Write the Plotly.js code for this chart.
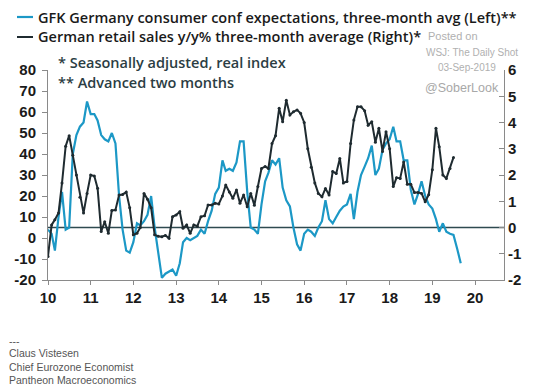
<!DOCTYPE html>
<html><head><meta charset="utf-8">
<script src="https://cdn.plot.ly/plotly-3.0.1.min.js"></script>
<style>html,body{margin:0;padding:0;background:#fff;}#chart{width:541px;height:387px;}</style>
</head><body><div id="chart"></div>
<script>
// GFK consumer confidence expectations, 3m avg (left axis), monthly from Jan 2010
var gfkStart = '2010-01-01';
var gfk2010 = [4, 2, -6, 10, 22, 4, 5, 40, 49, 53, 55, 65];
var gfk2011 = [59, 59, 56, 49, 47, 46, 50, 45, 20, 4, -6, -7];
var gfk2012 = [-2, 7, 6, 8, 11, 20, 5, -7, -19, -17, -16, -15];
var gfk2013 = [-18, -12, -2, 0, -1, 0, 1, 4, 2, 8, 13, 21];
var gfk2014 = [24, 37, 32, 33, 32, 36, 46, 46, 22, 5, 4, 2];
var gfk2015 = [16, 27, 31, 37, 35, 38, 24, 18, 15, 5, -3, -6];
var gfk2016 = [2, 4, 3, 1, 5, 8, 18, 9, 7, 10, 13, 15];
var gfk2017 = [16, 21, 9, 22, 30, 34, 38, 44, 30, 33, 42, 45];
var gfk2018 = [47, 53, 46, 46, 37, 37, 23, 16, 21, 27, 20, 16];
var gfk2019 = [14, 9, 3, 7, 3, 2, 1.5, -5, -12];

// German retail sales y/y% 3m avg (right axis), monthly from Jan 2010
var retailStart = '2010-01-01';
var ret2010 = [-1.1, 0.1, 0.3, 0.55, 1.7, 3.1, 3.5, 2.75, 2.0, 1.15, 0.55, 1.3];
var ret2011 = [2.0, 1.96, 1.5, -0.15, 0.22, -0.22, 0.65, 0.67, 1.24, 1.26, 1.35, 0.75];
var ret2012 = [-0.28, -0.22, 0.0, 1.3, 1.08, 0.75, -0.28, -0.33, -0.35, -0.3, -0.41, 0.41];
var ret2013 = [0.48, 0.6, -0.03, 0.1, -0.22, 0.1, 0.05, 0.41, 0.45, 0.86, 0.86, 0.92];
var ret2014 = [0.9, 1.2, 1.62, 1.35, 1.11, 1.43, 0.92, 1.24, 0.79, 1.3, 0.85, 1.56];
var ret2015 = [2.25, 2.32, 2.25, 3.2, 3.5, 4.54, 4.03, 4.85, 4.29, 4.41, 4.48, 4.35];
var ret2016 = [4.0, 3.0, 2.3, 1.7, 1.3, 1.17, 1.49, 1.24, 2.13, 2.06, 2.63, 1.7];
var ret2017 = [1.75, 3.2, 4.1, 4.6, 4.6, 4.45, 3.9, 4.03, 3.25, 3.78, 2.9, 3.65];
var ret2018 = [3.0, 1.56, 1.9, 1.87, 2.5, 1.65, 1.65, 1.33, 1.33, 1.3, 0.98, 1.25];
var ret2019 = [2.2, 3.78, 3.08, 2.0, 1.87, 2.25, 2.67];

var xTickVals = ['2010-01-01','2011-01-01','2012-01-01','2013-01-01','2014-01-01','2015-01-01','2016-01-01','2017-01-01','2018-01-01','2019-01-01','2020-01-01'];
var xTickText = ['10','11','12','13','14','15','16','17','18','19','20'];
var leftTickVals = [-20, -10, 0, 10, 20, 30, 40, 50, 60, 70, 80];
var leftTickText = ['-20','-10','0','10','20','30','40','50','60','70','80'];
var rightTickVals = [-2, -1, 0, 1, 2, 3, 4, 5, 6];
var rightTickText = ['-2','-1','0','1','2','3','4','5','6'];

var gfkName = 'GFK Germany consumer conf expectations, three-month avg (Left)**';
var retailName = 'German retail sales y/y% three-month average (Right)*';

function monthDates(start, n) {
  var y = parseInt(start.slice(0,4),10), m = parseInt(start.slice(5,7),10) - 1;
  var out = [];
  for (var i = 0; i < n; i++) {
    var yy = y + Math.floor((m + i) / 12), mm = (m + i) % 12 + 1;
    out.push(yy + '-' + (mm < 10 ? '0' + mm : mm) + '-01');
  }
  return out;
}
var gfk = [].concat(gfk2010, gfk2011, gfk2012, gfk2013, gfk2014, gfk2015, gfk2016, gfk2017, gfk2018, gfk2019);
var ret = [].concat(ret2010, ret2011, ret2012, ret2013, ret2014, ret2015, ret2016, ret2017, ret2018, ret2019);

var blue = '#1c98c6', dark = '#1f2b30';
var traces = [
  {x: monthDates(gfkStart, gfk.length), y: gfk, type: 'scatter', mode: 'lines', name: gfkName,
   line: {color: blue, width: 2.2}, yaxis: 'y', showlegend: false},
  {x: monthDates(retailStart, ret.length), y: ret, type: 'scatter', mode: 'lines+markers', name: retailName,
   line: {color: dark, width: 2}, marker: {color: dark, size: 3}, yaxis: 'y2', showlegend: false}
];

var tickFont = {family: 'Liberation Sans, Arial, sans-serif', size: 15, color: '#1a1a1a', weight: 'bold'};
var legFont = {family: 'Open Sans, sans-serif', size: 14.5, color: '#1a1a1a', weight: 600};
var noteFont = {family: 'Open Sans, sans-serif', size: 14.5, color: '#2b3d43', weight: 600};
var wmFont = {family: 'Liberation Sans, Arial, sans-serif', size: 11, color: '#b0b0b0'};
var footFont = {family: 'Liberation Sans, Arial, sans-serif', size: 10.5, color: '#555'};

function px2x(px) { return (px - 48) / 456; }
function py2y(py) { return (280 - py) / 210; }

var layout = {
  width: 541, height: 387,
  margin: {l: 48, r: 37, t: 70, b: 107, pad: 0},
  paper_bgcolor: '#fff', plot_bgcolor: '#fff',
  xaxis: {type: 'date', range: ['2010-01-01', '2020-09-05'], tickvals: xTickVals, ticktext: xTickText,
    showline: true, linecolor: '#8a8a8a', linewidth: 1, ticks: 'outside', ticklen: 4, tickcolor: '#8a8a8a',
    showgrid: false, zeroline: false, tickfont: tickFont},
  yaxis: {range: [-20, 80], tickvals: leftTickVals, ticktext: leftTickText,
    showline: true, linecolor: '#8a8a8a', linewidth: 1, ticks: 'outside', ticklen: 5, tickcolor: '#8a8a8a',
    showgrid: false, zeroline: false, tickfont: tickFont, ticklabelstandoff: 3},
  yaxis2: {range: [-2, 6], tickvals: rightTickVals, ticktext: rightTickText, overlaying: 'y', side: 'right',
    showline: true, linecolor: '#8a8a8a', linewidth: 1, ticks: 'inside', ticklen: 5, tickcolor: '#8a8a8a',
    showgrid: false, zeroline: false, tickfont: tickFont},
  shapes: [
    {type: 'line', xref: 'paper', yref: 'y2', x0: 0, x1: 1, y0: 0, y1: 0, layer: 'below',
     line: {color: '#2e4a50', width: 1.6}},
    {type: 'line', xref: 'paper', yref: 'paper', x0: px2x(17), x1: px2x(33), y0: py2y(17), y1: py2y(17),
     line: {color: blue, width: 2.2}},
    {type: 'line', xref: 'paper', yref: 'paper', x0: px2x(17), x1: px2x(33), y0: py2y(37), y1: py2y(37),
     line: {color: dark, width: 2}}
  ],
  annotations: [
    {text: gfkName, xref: 'paper', yref: 'paper', x: px2x(36), y: py2y(17), xanchor: 'left', yanchor: 'middle', showarrow: false, font: legFont},
    {text: retailName, xref: 'paper', yref: 'paper', x: px2x(36), y: py2y(37), xanchor: 'left', yanchor: 'middle', showarrow: false, font: legFont},
    {text: '* Seasonally adjusted, real index', xref: 'paper', yref: 'paper', x: px2x(56), y: py2y(63), xanchor: 'left', yanchor: 'middle', showarrow: false, font: noteFont},
    {text: '** Advanced two months', xref: 'paper', yref: 'paper', x: px2x(56), y: py2y(82), xanchor: 'left', yanchor: 'middle', showarrow: false, font: noteFont},
    {text: 'Posted on', xref: 'paper', yref: 'paper', x: px2x(426), y: py2y(36), xanchor: 'left', yanchor: 'middle', showarrow: false, font: wmFont},
    {text: 'WSJ: The Daily Shot', xref: 'paper', yref: 'paper', x: px2x(424), y: py2y(52), xanchor: 'left', yanchor: 'middle', showarrow: false, font: {family: wmFont.family, size: 10, color: '#b0b0b0'}},
    {text: '03-Sep-2019', xref: 'paper', yref: 'paper', x: px2x(498), y: py2y(67), xanchor: 'right', yanchor: 'middle', showarrow: false, font: {family: wmFont.family, size: 10, color: '#b0b0b0'}},
    {text: '@SoberLook', xref: 'paper', yref: 'paper', x: px2x(423), y: py2y(88), xanchor: 'left', yanchor: 'middle', showarrow: false, font: {family: wmFont.family, size: 12.5, color: '#a8a8a8'}},
    {text: '---', xref: 'paper', yref: 'paper', x: px2x(7), y: py2y(341), xanchor: 'left', yanchor: 'middle', showarrow: false, font: footFont},
    {text: 'Claus Vistesen', xref: 'paper', yref: 'paper', x: px2x(7), y: py2y(353), xanchor: 'left', yanchor: 'middle', showarrow: false, font: footFont},
    {text: 'Chief Eurozone Economist', xref: 'paper', yref: 'paper', x: px2x(7), y: py2y(367), xanchor: 'left', yanchor: 'middle', showarrow: false, font: footFont},
    {text: 'Pantheon Macroeconomics', xref: 'paper', yref: 'paper', x: px2x(7), y: py2y(380), xanchor: 'left', yanchor: 'middle', showarrow: false, font: footFont}
  ]
};
Plotly.newPlot('chart', traces, layout, {staticPlot: true, displayModeBar: false});
</script></body></html>
